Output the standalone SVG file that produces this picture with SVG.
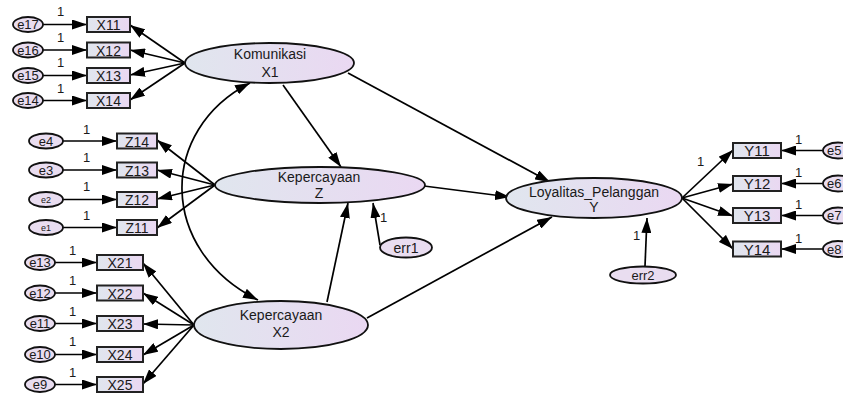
<svg xmlns="http://www.w3.org/2000/svg" width="843" height="394" viewBox="0 0 843 394">
<defs>
<linearGradient id="g" x1="0" y1="0" x2="1" y2="0">
<stop offset="0" stop-color="#e0e6ee"/>
<stop offset="1" stop-color="#ead8f2"/>
</linearGradient>
<marker id="ah" viewBox="0 0 15 10" refX="15" refY="5" markerWidth="15" markerHeight="10" orient="auto-start-reverse" markerUnits="userSpaceOnUse">
<path d="M0,0 L15,5 L0,10 z" fill="#000"/>
</marker>
<style>
.lat{fill:url(#g);stroke:#111;stroke-width:1.8}
.obs{fill:url(#g);stroke:#222;stroke-width:2}
.err{fill:#e9ddf0;stroke:#111;stroke-width:1.8}
.c{fill:none;stroke:#000;stroke-width:1.7;marker-end:url(#ah)}
text{font-family:"Liberation Sans",Arial,sans-serif;fill:#1a1a1a;text-anchor:middle}
.t14{font-size:14px}
.t15{font-size:15px}
.t13{font-size:13px}
.t9{font-size:9px}
.one{font-size:13px;text-anchor:start}
</style>
</defs>

<g id="connectors">
<line class="c" x1="43" y1="24.5" x2="87" y2="24.5"/>
<line class="c" x1="43" y1="50" x2="87" y2="50"/>
<line class="c" x1="43" y1="75.5" x2="87" y2="75.5"/>
<line class="c" x1="43" y1="100.5" x2="87" y2="100.5"/>
<line class="c" x1="185" y1="63" x2="130" y2="25"/>
<line class="c" x1="185" y1="63" x2="130" y2="50"/>
<line class="c" x1="185" y1="63" x2="130" y2="75"/>
<line class="c" x1="185" y1="63" x2="130" y2="100"/>
<line class="c" x1="63" y1="141" x2="117" y2="141"/>
<line class="c" x1="63" y1="170" x2="117" y2="170"/>
<line class="c" x1="63" y1="199.5" x2="117" y2="199.5"/>
<line class="c" x1="63" y1="227.5" x2="117" y2="227.5"/>
<line class="c" x1="215" y1="185" x2="157" y2="140"/>
<line class="c" x1="215" y1="185" x2="157" y2="170"/>
<line class="c" x1="215" y1="185" x2="157" y2="199"/>
<line class="c" x1="215" y1="185" x2="157" y2="228"/>
<line class="c" x1="55" y1="262.5" x2="97" y2="262.5"/>
<line class="c" x1="55" y1="293" x2="97" y2="293"/>
<line class="c" x1="55" y1="323.5" x2="97" y2="323.5"/>
<line class="c" x1="55" y1="354.5" x2="97" y2="354.5"/>
<line class="c" x1="55" y1="384.5" x2="97" y2="384.5"/>
<line class="c" x1="194" y1="325" x2="143" y2="263"/>
<line class="c" x1="194" y1="325" x2="143" y2="293"/>
<line class="c" x1="194" y1="325" x2="143" y2="324"/>
<line class="c" x1="194" y1="325" x2="143" y2="355"/>
<line class="c" x1="194" y1="325" x2="143" y2="384"/>
<path class="c" d="M250,83 C158,130 158,250 258,300" style="marker-start:url(#ah)"/>
<line class="c" x1="283" y1="85" x2="341" y2="167"/>
<line class="c" x1="348" y1="73" x2="550" y2="182"/>
<line class="c" x1="424" y1="186" x2="510" y2="197"/>
<line class="c" x1="367" y1="318" x2="552" y2="217"/>
<line class="c" x1="327" y1="302" x2="348" y2="203"/>
<line class="c" x1="380" y1="245" x2="373" y2="203"/>
<line class="c" x1="645" y1="266" x2="647" y2="218"/>
<line class="c" x1="682" y1="198" x2="733" y2="150"/>
<line class="c" x1="682" y1="198" x2="733" y2="184"/>
<line class="c" x1="682" y1="198" x2="733" y2="216"/>
<line class="c" x1="682" y1="198" x2="733" y2="249"/>
<line class="c" x1="823" y1="150.5" x2="781" y2="150.5"/>
<line class="c" x1="823" y1="183.5" x2="781" y2="183.5"/>
<line class="c" x1="823" y1="215.5" x2="781" y2="215.5"/>
<line class="c" x1="823" y1="249" x2="781" y2="249"/>
<text class="one" x="57" y="16">1</text>
<text class="one" x="57" y="42">1</text>
<text class="one" x="57" y="67">1</text>
<text class="one" x="57" y="93">1</text>
<text class="one" x="83" y="134">1</text>
<text class="one" x="83" y="162">1</text>
<text class="one" x="83" y="191">1</text>
<text class="one" x="83" y="220">1</text>
<text class="one" x="69" y="255">1</text>
<text class="one" x="69" y="285">1</text>
<text class="one" x="69" y="316">1</text>
<text class="one" x="69" y="346">1</text>
<text class="one" x="69" y="377">1</text>
<text class="one" x="380" y="222">1</text>
<text class="one" x="633" y="240">1</text>
<text class="one" x="697" y="166">1</text>
<text class="one" x="795" y="144">1</text>
<text class="one" x="795" y="177">1</text>
<text class="one" x="795" y="209">1</text>
<text class="one" x="795" y="243">1</text>
</g>

<g id="e17"><ellipse class="err" cx="28" cy="24.5" rx="15" ry="7.5"/><text class="t13" x="28" y="29">e17</text></g>
<g id="e16"><ellipse class="err" cx="28" cy="50" rx="15" ry="7.5"/><text class="t13" x="28" y="54.5">e16</text></g>
<g id="e15"><ellipse class="err" cx="28" cy="75.5" rx="15" ry="7.5"/><text class="t13" x="28" y="80">e15</text></g>
<g id="e14"><ellipse class="err" cx="28" cy="100.5" rx="15" ry="7.5"/><text class="t13" x="28" y="105">e14</text></g>
<g id="X11"><rect class="obs" x="87" y="17" width="43" height="15"/><text class="t14" x="108.5" y="30">X11</text></g>
<g id="X12"><rect class="obs" x="87" y="42.5" width="43" height="15"/><text class="t14" x="108.5" y="55.5">X12</text></g>
<g id="X13"><rect class="obs" x="87" y="68" width="43" height="15"/><text class="t14" x="108.5" y="81">X13</text></g>
<g id="X14"><rect class="obs" x="87" y="93" width="43" height="15"/><text class="t14" x="108.5" y="106">X14</text></g>

<g id="e4"><ellipse class="err" cx="46" cy="141" rx="17" ry="7.5"/><text class="t13" x="46" y="145.5">e4</text></g>
<g id="e3"><ellipse class="err" cx="46" cy="170" rx="17" ry="7.5"/><text class="t13" x="46" y="174.5">e3</text></g>
<g id="e2"><ellipse class="err" cx="46" cy="199.5" rx="17" ry="7.5"/><text class="t9" x="46" y="202.5">e2</text></g>
<g id="e1"><ellipse class="err" cx="46" cy="227.5" rx="17" ry="7.5"/><text class="t9" x="46" y="230.5">e1</text></g>
<g id="Z14"><rect class="obs" x="117" y="133.5" width="40" height="15"/><text class="t14" x="137" y="146.5">Z14</text></g>
<g id="Z13"><rect class="obs" x="117" y="162.5" width="40" height="15"/><text class="t14" x="137" y="175.5">Z13</text></g>
<g id="Z12"><rect class="obs" x="117" y="192" width="40" height="15"/><text class="t14" x="137" y="205">Z12</text></g>
<g id="Z11"><rect class="obs" x="117" y="220" width="40" height="15"/><text class="t14" x="137" y="233">Z11</text></g>

<g id="e13"><ellipse class="err" cx="40" cy="262.5" rx="15" ry="7.5"/><text class="t13" x="40" y="267">e13</text></g>
<g id="e12"><ellipse class="err" cx="40" cy="293" rx="15" ry="7.5"/><text class="t13" x="40" y="297.5">e12</text></g>
<g id="e11"><ellipse class="err" cx="40" cy="323.5" rx="15" ry="7.5"/><text class="t13" x="40" y="328">e11</text></g>
<g id="e10"><ellipse class="err" cx="40" cy="354.5" rx="15" ry="7.5"/><text class="t13" x="40" y="359">e10</text></g>
<g id="e9"><ellipse class="err" cx="40" cy="384.5" rx="15" ry="7.5"/><text class="t13" x="40" y="389">e9</text></g>
<g id="X21"><rect class="obs" x="97" y="255" width="46" height="15"/><text class="t14" x="120" y="268">X21</text></g>
<g id="X22"><rect class="obs" x="97" y="285.5" width="46" height="15"/><text class="t14" x="120" y="298.5">X22</text></g>
<g id="X23"><rect class="obs" x="97" y="316" width="46" height="15"/><text class="t14" x="120" y="329">X23</text></g>
<g id="X24"><rect class="obs" x="97" y="347" width="46" height="15"/><text class="t14" x="120" y="360">X24</text></g>
<g id="X25"><rect class="obs" x="97" y="377" width="46" height="15"/><text class="t14" x="120" y="390">X25</text></g>

<g id="X1"><ellipse class="lat" cx="269.5" cy="63" rx="84.5" ry="20"/><text class="t14" x="270" y="59">Komunikasi</text><text class="t14" x="270" y="77">X1</text></g>
<g id="Z"><ellipse class="lat" cx="320" cy="185" rx="105" ry="18"/><text class="t14" x="319" y="182">Kepercayaan</text><text class="t14" x="319" y="198">Z</text></g>
<g id="X2"><ellipse class="lat" cx="281" cy="325" rx="87" ry="24"/><text class="t14" x="281" y="320">Kepercayaan</text><text class="t14" x="281" y="337">X2</text></g>
<g id="Y"><ellipse class="lat" cx="594" cy="198" rx="88" ry="20"/><text class="t14" x="594" y="197">Loyalitas_Pelanggan</text><text class="t14" x="594" y="212">Y</text></g>
<g id="err1"><ellipse class="err" cx="406" cy="247.5" rx="26" ry="10"/><text class="t14" x="406" y="252.5">err1</text></g>
<g id="err2"><ellipse class="err" cx="643" cy="275" rx="33" ry="8.5"/><text class="t13" x="643" y="279.5">err2</text></g>

<g id="Y11"><rect class="obs" x="733" y="143" width="48" height="15"/><text class="t15" x="757" y="156">Y11</text></g>
<g id="Y12"><rect class="obs" x="733" y="176" width="48" height="15"/><text class="t15" x="757" y="189">Y12</text></g>
<g id="Y13"><rect class="obs" x="733" y="208" width="48" height="15"/><text class="t15" x="757" y="221">Y13</text></g>
<g id="Y14"><rect class="obs" x="733" y="241.5" width="48" height="15"/><text class="t15" x="757" y="254.5">Y14</text></g>
<g id="e5"><ellipse class="err" cx="838" cy="150.5" rx="15" ry="8"/><text class="t13" x="827" y="155" style="text-anchor:start">e5</text></g>
<g id="e6"><ellipse class="err" cx="838" cy="183.5" rx="15" ry="8"/><text class="t13" x="827" y="188" style="text-anchor:start">e6</text></g>
<g id="e7"><ellipse class="err" cx="838" cy="215.5" rx="15" ry="8"/><text class="t13" x="827" y="220" style="text-anchor:start">e7</text></g>
<g id="e8"><ellipse class="err" cx="838" cy="249" rx="15" ry="8"/><text class="t13" x="827" y="253.5" style="text-anchor:start">e8</text></g>
</svg>
